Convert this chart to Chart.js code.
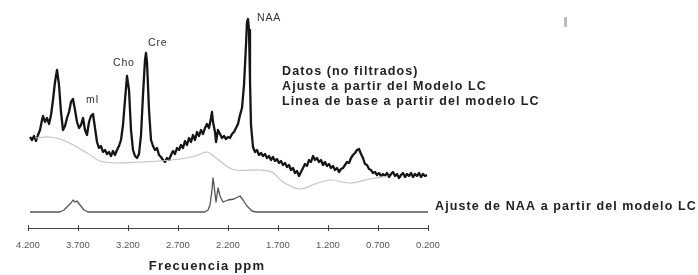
<!DOCTYPE html>
<html>
<head>
<meta charset="utf-8">
<script src="https://cdn.jsdelivr.net/npm/chart.js@4"></script>
<style>
  html, body { margin: 0; padding: 0; background: #fff; }
  #wrap { width: 698px; height: 275px; position: relative; }
</style>
</head>
<body>
<div id="wrap"><canvas id="chart" width="698" height="275"></canvas></div>
<script>
// Data: [ppm, intensity a.u.]
const spectrum = [
  [4.18, 9.1], [4.16, 8.8], [4.14, 9.2], [4.12, 8.7], [4.10, 9.3], [4.08, 9.8], [4.06, 10.8], [4.05, 11.2],
  [4.03, 10.6], [4.01, 11.0], [3.99, 10.4], [3.97, 11.3], [3.95, 12.8], [3.93, 14.6], [3.91, 15.8], [3.89, 14.3],
  [3.87, 11.6], [3.85, 9.8], [3.83, 10.2], [3.81, 11.0], [3.79, 11.6], [3.77, 12.6], [3.75, 12.9], [3.73, 11.8],
  [3.71, 10.6], [3.69, 10.0], [3.67, 10.3], [3.65, 11.0], [3.63, 9.8], [3.61, 9.3], [3.59, 10.6], [3.57, 11.2],
  [3.55, 11.4], [3.53, 10.0], [3.51, 8.6], [3.49, 8.0], [3.47, 8.2], [3.45, 7.6], [3.43, 7.8], [3.41, 7.4],
  [3.39, 7.6], [3.37, 7.2], [3.35, 7.7], [3.33, 7.3], [3.31, 7.8], [3.29, 8.2], [3.27, 8.8], [3.25, 10.3],
  [3.23, 12.8], [3.21, 15.2], [3.19, 13.8], [3.17, 9.8], [3.15, 7.8], [3.13, 7.2], [3.11, 7.0], [3.09, 7.4],
  [3.07, 9.3], [3.05, 13.3], [3.03, 16.8], [3.02, 17.5], [3.01, 16.6], [2.99, 11.8], [2.97, 8.8], [2.95, 8.2],
  [2.93, 7.8], [2.91, 8.0], [2.89, 7.3], [2.87, 7.1], [2.85, 6.8], [2.83, 6.6], [2.81, 7.0], [2.79, 6.8],
  [2.77, 7.3], [2.75, 7.7], [2.73, 7.4], [2.71, 8.0], [2.69, 7.8], [2.67, 8.3], [2.65, 8.0], [2.63, 8.7],
  [2.61, 8.3], [2.59, 9.0], [2.57, 8.6], [2.55, 9.3], [2.53, 8.8], [2.51, 9.6], [2.49, 9.2], [2.47, 9.8],
  [2.45, 9.4], [2.43, 10.0], [2.41, 10.4], [2.39, 10.0], [2.37, 11.0], [2.36, 11.6], [2.35, 10.6], [2.33, 9.6],
  [2.32, 8.6], [2.30, 9.8], [2.28, 9.4], [2.26, 9.0], [2.24, 9.2], [2.22, 8.9], [2.20, 9.1], [2.18, 9.0],
  [2.16, 9.4], [2.14, 9.6], [2.12, 10.0], [2.10, 10.4], [2.08, 11.3], [2.06, 12.0], [2.04, 14.3], [2.02, 18.3],
  [2.01, 20.6], [2.00, 20.9], [1.99, 19.8], [1.98, 14.8], [1.97, 10.3], [1.95, 8.1], [1.93, 7.6], [1.91, 7.8],
  [1.89, 7.3], [1.87, 7.5], [1.85, 7.2], [1.83, 7.4], [1.81, 7.0], [1.79, 7.2], [1.77, 6.8], [1.75, 7.1],
  [1.73, 6.7], [1.71, 6.9], [1.69, 6.5], [1.67, 6.7], [1.65, 6.3], [1.63, 6.5], [1.61, 6.1], [1.59, 6.3],
  [1.57, 5.8], [1.55, 6.0], [1.53, 5.5], [1.51, 5.7], [1.49, 5.2], [1.47, 5.6], [1.45, 6.0], [1.43, 6.4],
  [1.41, 6.2], [1.39, 6.8], [1.37, 6.6], [1.35, 7.2], [1.33, 6.8], [1.31, 7.0], [1.29, 6.6], [1.27, 6.8],
  [1.25, 6.3], [1.23, 6.6], [1.21, 6.2], [1.19, 6.4], [1.17, 6.0], [1.15, 6.2], [1.13, 5.8], [1.11, 6.0],
  [1.09, 5.6], [1.07, 5.9], [1.05, 6.0], [1.03, 6.3], [1.01, 6.6], [0.99, 6.5], [0.97, 7.0], [0.95, 7.3],
  [0.93, 7.5], [0.91, 7.8], [0.89, 7.9], [0.87, 7.4], [0.85, 7.0], [0.83, 6.4], [0.81, 6.3], [0.79, 5.9],
  [0.77, 5.8], [0.75, 5.5], [0.73, 5.6], [0.71, 5.3], [0.69, 5.5], [0.67, 5.2], [0.65, 5.4], [0.63, 5.2],
  [0.61, 5.5], [0.59, 5.1], [0.57, 5.4], [0.55, 5.6], [0.53, 5.2], [0.51, 5.4], [0.49, 5.0], [0.47, 5.3],
  [0.45, 5.5], [0.43, 5.1], [0.41, 5.4], [0.39, 5.2], [0.37, 5.5], [0.35, 5.1], [0.33, 5.4], [0.31, 5.2],
  [0.29, 5.5], [0.27, 5.1], [0.25, 5.4], [0.23, 5.2], [0.21, 5.3]
];

const baseline = [
  [4.13, 9.0], [3.98, 9.1], [3.85, 8.8], [3.73, 8.2], [3.61, 7.5], [3.48, 6.7], [3.31, 6.5], [3.08, 6.6],
  [2.88, 6.7], [2.68, 6.9], [2.53, 7.2], [2.41, 7.6], [2.33, 7.1], [2.23, 6.3], [2.13, 5.8], [1.88, 5.8],
  [1.76, 5.6], [1.65, 4.6], [1.48, 3.9], [1.33, 4.4], [1.18, 4.8], [0.98, 4.5], [0.78, 4.9], [0.60, 5.2]
];

const naaFit = [
  [4.18, 1.6], [3.88, 1.6], [3.84, 1.8], [3.80, 2.2], [3.77, 2.5], [3.75, 2.8], [3.73, 2.6], [3.71, 2.7],
  [3.68, 2.3], [3.64, 1.8], [3.60, 1.6], [2.43, 1.6], [2.40, 1.8], [2.38, 2.3], [2.36, 3.8], [2.35, 5.0],
  [2.34, 4.3], [2.32, 2.6], [2.30, 4.0], [2.28, 3.2], [2.25, 2.6], [2.20, 2.8], [2.14, 2.9], [2.10, 3.1],
  [2.08, 3.2], [2.05, 2.8], [2.01, 2.2], [1.96, 1.7], [1.92, 1.6], [0.20, 1.6]
];

const xTicks = [4.2, 3.7, 3.2, 2.7, 2.2, 1.7, 1.2, 0.7, 0.2];

// peak labels: [text, ppm, intensity]
const peakLabels = [
  ['NAA', 1.91, 21.0],
  ['Cre', 3.00, 18.5],
  ['Cho', 3.35, 16.5],
  ['mI', 3.62, 12.8]
];

const legendLines = ['Datos (no filtrados)', 'Ajuste a partir del Modelo LC', 'Linea de base a partir del modelo LC'];
const naaLegend = 'Ajuste de NAA a partir del modelo LC';
const xTitle = 'Frecuencia ppm';

const FONT = '"Liberation Sans", Arial, sans-serif';
const toXY = arr => arr.map(p => ({ x: p[0], y: p[1] }));

const overlay = {
  id: 'overlay',
  afterDraw(chart) {
    const ctx = chart.ctx;
    const xs = chart.scales.x, ys = chart.scales.y;
    const axisY = chart.chartArea.bottom;
    ctx.save();
    // tick marks crossing the axis line
    ctx.strokeStyle = '#444';
    ctx.lineWidth = 1;
    xTicks.forEach(t => {
      const px = Math.round(xs.getPixelForValue(t)) + 0.5;
      ctx.beginPath();
      ctx.moveTo(px, axisY - 3);
      ctx.lineTo(px, axisY + 3);
      ctx.stroke();
    });
    ctx.textBaseline = 'middle';
    // peak labels
    ctx.fillStyle = '#333';
    ctx.font = '10.5px ' + FONT;
    ctx.letterSpacing = '0.8px';
    ctx.textAlign = 'left';
    peakLabels.forEach(l => {
      ctx.fillText(l[0], xs.getPixelForValue(l[1]), ys.getPixelForValue(l[2]));
    });
    // legend text
    ctx.fillStyle = '#222';
    ctx.font = 'bold 12.5px ' + FONT;
    ctx.letterSpacing = '1.1px';
    legendLines.forEach((t, i) => ctx.fillText(t, 282, 72 + i * 15));
    ctx.fillText(naaLegend, 435, ys.getPixelForValue(naaFit[0][1]) - 5);
    // axis title
    ctx.font = 'bold 13px ' + FONT;
    ctx.letterSpacing = '1.2px';
    ctx.textAlign = 'center';
    ctx.fillText(xTitle, xs.getPixelForValue(2.41), 266);
    // small grey mark top right
    ctx.fillStyle = '#bbb';
    ctx.fillRect(564, 17, 3, 10);
    ctx.restore();
  }
};

new Chart(document.getElementById('chart'), {
  type: 'line',
  data: {
    datasets: [
      {
        label: 'Linea de base',
        data: toXY(baseline),
        borderColor: '#c4c4c4',
        borderWidth: 1.2,
        pointRadius: 0,
        tension: 0.3
      },
      {
        label: 'Datos',
        data: toXY(spectrum),
        borderColor: '#151515',
        borderWidth: 2.3,
        borderJoinStyle: 'round',
        pointRadius: 0,
        tension: 0
      },
      {
        label: 'Ajuste NAA',
        data: toXY(naaFit),
        borderColor: '#555',
        borderWidth: 1.3,
        borderJoinStyle: 'round',
        pointRadius: 0,
        tension: 0
      }
    ]
  },
  options: {
    responsive: false,
    animation: false,
    devicePixelRatio: 1,
    layout: { padding: { left: 28, right: 270, top: 8, bottom: 0 } },
    plugins: { legend: { display: false }, tooltip: { enabled: false } },
    scales: {
      x: {
        type: 'linear',
        reverse: true,
        min: 0.2,
        max: 4.2,
        afterBuildTicks: s => { s.ticks = xTicks.map(v => ({ value: v })); },
        afterFit: s => { s.height = 47; },
        grid: { display: true, drawOnChartArea: false, drawTicks: false },
        border: { display: true, color: '#444', width: 1 },
        ticks: {
          color: '#555',
          font: { size: 9.5, family: FONT },
          padding: 12,
          maxRotation: 0,
          autoSkip: false,
          callback: v => v.toFixed(3)
        }
      },
      y: { display: false, min: 0, max: 22 }
    }
  },
  plugins: [overlay]
});
</script>
</body>
</html>
